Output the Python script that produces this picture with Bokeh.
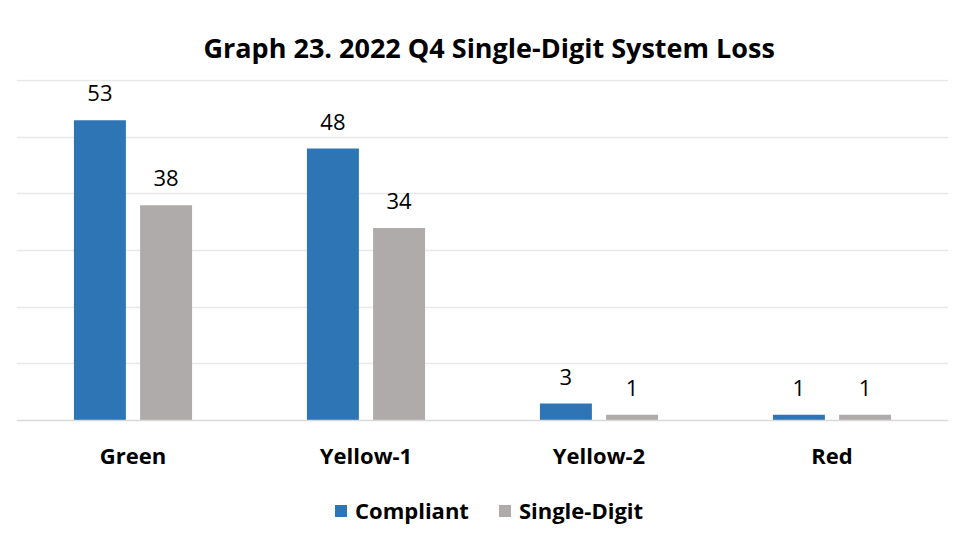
from bokeh.plotting import figure
from bokeh.models import ColumnDataSource, FactorRange, Range1d, Legend, LegendItem, LabelSet, Span
from bokeh.transform import dodge
from bokeh.core.properties import value
from bokeh.embed import file_html
from bokeh.resources import INLINE

categories = ["Green", "Yellow-1", "Yellow-2", "Red"]
compliant = [53, 48, 3, 1]
single_digit = [38, 34, 1, 1]
grid_ticks = [10, 20, 30, 40, 50, 60]

FONT = "Open Sans"
BLUE = "#2E75B6"
GRAY = "#AFABAB"
LABEL_Y = -6.0

src = ColumnDataSource(dict(cat=categories, comp=compliant, sd=single_digit,
                            comp_t=[str(v) for v in compliant],
                            sd_t=[str(v) for v in single_digit],
                            ly=[LABEL_Y] * len(categories)))

p = figure(width=956, height=545, x_range=FactorRange(*categories), y_range=Range1d(-20.65, 60.2),
           output_backend="svg", toolbar_location=None,
           min_border_left=16, min_border_right=8, min_border_top=79, min_border_bottom=8)

p.title.text = "Graph 23. 2022 Q4 Single-Digit System Loss"
p.title.align = "left"
p.title.offset = 187
p.title.text_font = FONT
p.title.text_font_size = "27px"
p.title.text_font_style = "bold"
p.title.text_color = "#000000"
p.title.standoff = 28

r1 = p.vbar(x=dodge("cat", -0.142, range=p.x_range), top="comp", width=0.223, source=src,
            fill_color=BLUE, line_color=None)
r2 = p.vbar(x=dodge("cat", 0.142, range=p.x_range), top="sd", width=0.223, source=src,
            fill_color=GRAY, line_color=None)

for col, txt, off in (("comp", "comp_t", -0.142), ("sd", "sd_t", 0.142)):
    lbl = LabelSet(x=dodge("cat", off, range=p.x_range), y=col, text=txt, source=src,
                   text_align="center", text_baseline="middle", y_offset=27,
                   text_font=value(FONT), text_font_size="22px", text_color="#000000")
    p.add_layout(lbl)

p.text(x="cat", y="ly", text="cat", source=src, text_align="center", text_baseline="middle",
       text_font=value(FONT), text_font_size="22px", text_font_style="bold", text_color="#000000")

p.xaxis.visible = False
p.yaxis.visible = False
p.ygrid.grid_line_color = "#E8E8E8"
p.ygrid.grid_line_width = 1.5
p.ygrid.ticker = grid_ticks
p.xgrid.grid_line_color = None
p.add_layout(Span(location=0, dimension="width", line_color="#D9D9D9", line_width=1.5))

p.outline_line_color = None
p.x_range.range_padding = 0
p.x_range.group_padding = 0

legend = Legend(items=[LegendItem(label="Compliant", renderers=[r1]),
                       LegendItem(label="Single-Digit", renderers=[r2])],
                orientation="horizontal", location=(317, 12),
                label_text_font=FONT, label_text_font_size="22px", label_text_font_style="bold",
                label_text_color="#000000", glyph_width=15, glyph_height=15,
                label_standoff=7, spacing=28, border_line_color=None,
                background_fill_alpha=0, margin=0, padding=4)
p.add_layout(legend, "center")

open("out.html", "w").write(file_html(p, INLINE))
